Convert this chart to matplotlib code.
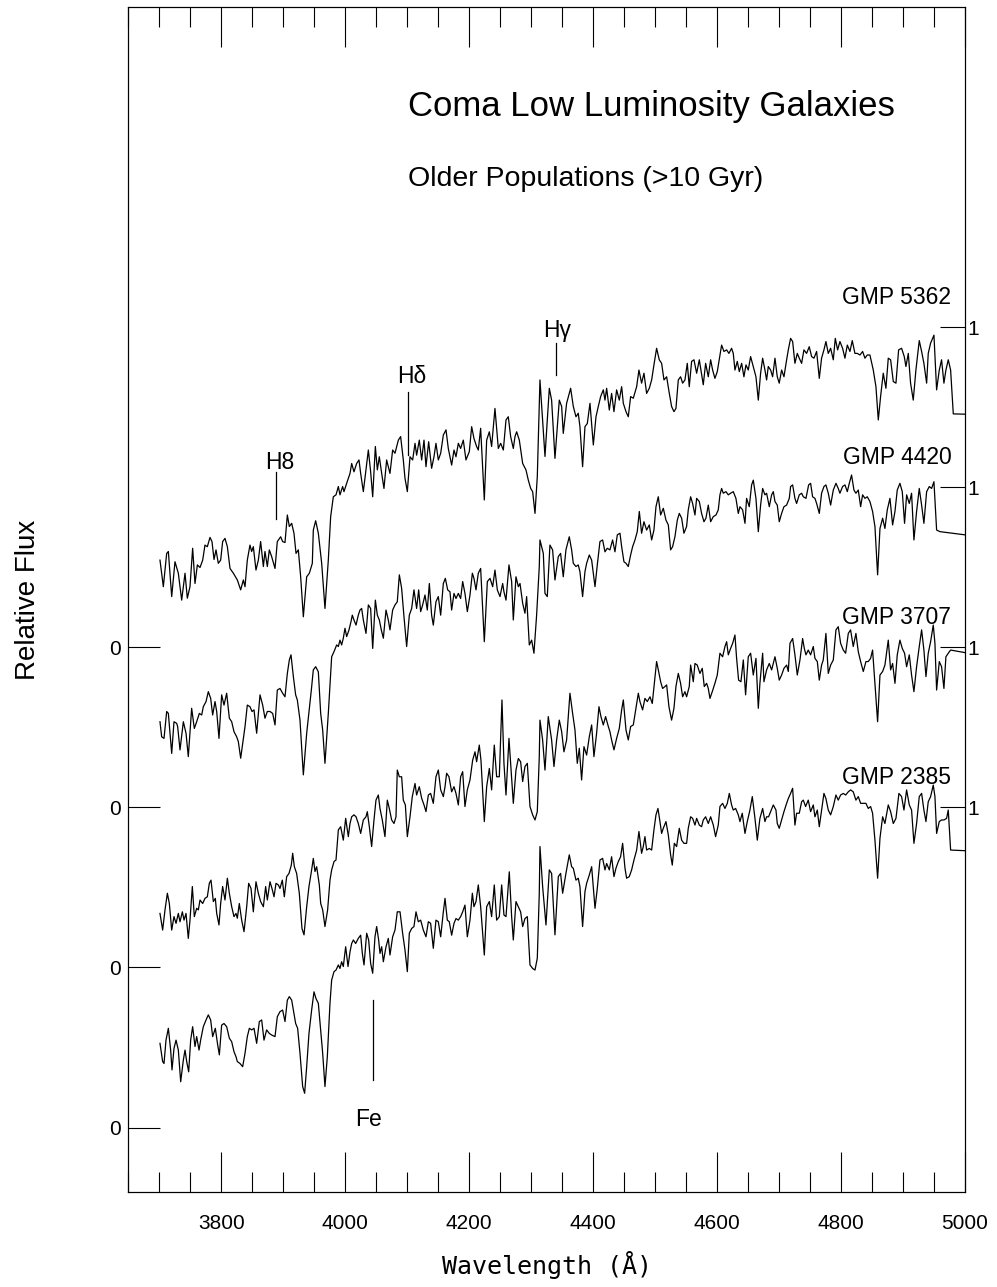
import matplotlib
matplotlib.use("Agg")
import matplotlib.pyplot as plt
from matplotlib.ticker import MultipleLocator

plt.rcParams['font.family'] = ['Liberation Sans', 'DejaVu Sans']

# Normalised spectra (flux = 1 near 4950 A), one pair of lists per galaxy
wave_5362 = [
    3701.1, 3706.5, 3711.9, 3714.6, 3720.0, 3725.3, 3730.7, 3736.1, 3741.5, 3745.2,
    3749.5, 3753.8, 3757.6, 3761.4, 3765.7, 3770.0, 3773.7, 3777.5, 3781.8, 3785.0,
    3788.3, 3791.5, 3795.2, 3799.0, 3802.2, 3806.0, 3809.8, 3814.1, 3819.5, 3825.9,
    3831.3, 3835.6, 3838.3, 3842.0, 3846.3, 3849.0, 3851.7, 3856.0, 3859.8, 3863.5,
    3867.9, 3870.5, 3874.3, 3877.5, 3881.3, 3886.7, 3890.4, 3895.8, 3899.0, 3902.8,
    3906.6, 3909.8, 3913.6, 3917.3, 3920.6, 3924.3, 3928.1, 3932.4, 3937.8, 3942.1,
    3946.9, 3948.5, 3952.3, 3956.6, 3962.0, 3967.3, 3972.7, 3976.5, 3980.8, 3985.1,
    3988.9, 3991.5, 3995.8, 3998.0, 4002.3, 4007.7, 4010.4, 4014.1, 4018.4, 4022.2,
    4024.9, 4029.2, 4033.5, 4037.3, 4041.0, 4044.3, 4048.6, 4051.8, 4055.0, 4058.8,
    4062.5, 4066.8, 4072.2, 4076.5, 4080.3, 4085.7, 4089.4, 4093.7, 4096.4, 4100.2,
    4104.5, 4108.8, 4112.6, 4115.2, 4119.5, 4123.3, 4127.1, 4130.3, 4134.6, 4139.4,
    4143.2, 4146.4, 4150.2, 4154.0, 4158.3, 4162.6, 4166.3, 4171.7, 4175.5, 4178.7,
    4182.5, 4186.2, 4190.5, 4194.8, 4200.2, 4204.0, 4207.7, 4212.0, 4214.7, 4218.5,
    4224.4, 4228.2, 4232.5, 4236.2, 4241.6, 4247.0, 4250.8, 4255.1, 4259.4, 4263.1,
    4266.9, 4271.2, 4273.9, 4276.6, 4280.9, 4286.3, 4291.6, 4295.4, 4299.2, 4302.4,
    4306.2, 4309.9,
    4314.2, 4322.3, 4329.3, 4333.0, 4338.4, 4345.4, 4349.2, 4351.8, 4357.2, 4363.7,
    4368.0, 4372.3, 4376.0, 4378.7, 4383.0, 4386.8, 4390.6, 4394.9, 4400.3, 4404.6,
    4408.3, 4412.1, 4416.4, 4419.1, 4421.8, 4426.1, 4429.8, 4433.6, 4437.9, 4442.2,
    4446.0, 4448.7, 4453.0, 4456.7, 4460.5, 4464.8, 4470.2, 4473.9, 4478.2, 4482.0,
    4486.3, 4490.6, 4494.4, 4498.1, 4502.4, 4506.7, 4510.5, 4514.3, 4518.6, 4522.9,
    4526.6, 4530.4, 4533.6, 4537.4, 4541.1, 4544.4, 4548.1, 4551.9, 4555.1, 4558.9,
    4562.7, 4567.0, 4571.3, 4574.0, 4577.7, 4581.5, 4585.8, 4589.6, 4592.8, 4596.5,
    4600.3, 4604.6, 4607.3, 4611.1, 4615.4, 4619.1, 4623.4, 4626.1, 4628.8, 4632.6,
    4635.8, 4639.6, 4643.3, 4646.6, 4650.3, 4654.1, 4658.4, 4662.7, 4666.5, 4670.2,
    4673.5, 4677.2, 4679.9, 4682.6, 4686.4, 4689.6, 4693.4, 4697.1, 4700.3, 4704.1,
    4707.9, 4712.2, 4714.9, 4718.6, 4721.9, 4725.6, 4729.4, 4732.6, 4736.4, 4740.1,
    4744.4, 4748.7, 4752.5, 4756.3, 4760.6, 4764.9, 4768.6, 4772.4, 4775.6, 4779.4,
    4783.2, 4787.5, 4790.7, 4794.5, 4798.2, 4802.5, 4806.3, 4810.1, 4814.4, 4818.1,
    4822.4, 4826.2, 4830.5, 4834.8, 4838.6, 4842.3, 4846.6, 4852.0, 4856.3, 4860.1,
    4863.8, 4868.1, 4872.4, 4876.2, 4880.0, 4884.3, 4888.6, 4892.9, 4897.7, 4902.0,
    4904.7, 4908.5, 4912.2, 4916.5, 4920.8, 4926.2, 4930.0, 4933.7, 4938.1, 4940.7,
    4944.5, 4949.9, 4954.2, 4958.5, 4962.2, 4966.0, 4969.2, 4973.0, 4976.8, 4981.1,
    5000.0]
flux_5362 = [
    .273, .190, .294, .300, .159, .268, .232, .148, .232, .154,
    .190, .310, .200, .258, .250, .273, .320, .315, .344, .331,
    .275, .305, .263, .273, .331, .341, .315, .247, .232, .211,
    .180, .211, .190, .273, .320, .300, .315, .242, .273, .331,
    .253, .300, .253, .305, .284, .247, .331, .346, .331, .328,
    .414, .378, .388, .357, .294, .305, .221, .096, .221, .232,
    .263, .367, .396, .357, .263, .122, .273, .409, .471, .477,
    .503, .477, .503, .487, .513, .544, .575, .549, .575, .586,
    .544, .487, .555, .617, .549, .471, .628, .555, .596, .544,
    .497, .586, .544, .617, .607, .648, .659, .586, .529, .487,
    .596, .586, .638, .601, .648, .586, .648, .565, .643, .560,
    .596, .638, .586, .607, .664, .680, .622, .570, .617, .596,
    .638, .622, .648, .586, .612, .690, .653, .628, .617, .685,
    .461, .648, .674, .628, .747, .622, .638, .617, .711, .721,
    .659, .622, .659, .674, .648, .575, .555, .523, .497, .487,
    .419, .534,
    .836, .597, .810, .773, .591, .773, .753, .669, .763, .810,
    .753, .721, .732, .690, .565, .690, .700, .763, .633, .721,
    .753, .784, .805, .773, .810, .742, .794, .737, .805, .773,
    .815, .763, .737, .721, .784, .779, .815, .867, .826, .857,
    .794, .810, .836, .883, .935, .899, .888, .836, .846, .794,
    .753, .737, .747, .836, .846, .826, .836, .888, .815, .894,
    .899, .857, .899, .867, .821, .888, .846, .899, .867, .841,
    .862, .914, .945, .925, .930, .919, .935, .919, .867, .894,
    .862, .888, .846, .883, .867, .909, .878, .846, .773, .857,
    .904, .867, .836, .878, .867, .846, .904, .846, .826, .867,
    .846, .899, .930, .966, .956, .888, .919, .904, .888, .930,
    .919, .940, .909, .904, .925, .841, .904, .930, .956, .919,
    .935, .899, .966, .930, .956, .935, .904, .945, .925, .959,
    .919, .919, .914, .925, .904, .914, .914, .867, .815, .711,
    .784, .857, .810, .904, .899, .831, .826, .930, .935, .909,
    .878, .919, .826, .773, .867, .959, .925, .888, .826, .919,
    .951, .976, .805, .867, .899, .826, .867, .899, .867, .730,
    .729]

wave_4420 = [
    3701.1, 3703.8, 3707.6, 3711.9, 3714.6, 3720.0, 3723.7, 3728.0, 3729.6, 3733.4,
    3738.8, 3743.1, 3746.8, 3752.2, 3756.5, 3760.3, 3764.6, 3768.4, 3771.0, 3775.4,
    3779.1, 3782.9, 3786.1, 3789.9, 3792.6, 3796.3, 3800.6, 3804.4, 3808.7, 3813.0,
    3816.8, 3820.5, 3824.8, 3827.5, 3831.3, 3834.5, 3838.3, 3842.0, 3846.3, 3849.6,
    3852.8, 3857.1, 3862.5, 3866.8, 3870.5, 3874.3, 3878.6, 3882.9, 3886.7, 3890.4,
    3894.7, 3899.0, 3902.8, 3906.6, 3909.8, 3912.5, 3916.3, 3920.0, 3922.7, 3927.0,
    3932.4, 3937.8, 3942.1, 3945.3, 3948.5, 3952.3, 3956.6, 3960.4, 3963.6, 3967.3,
    3972.7, 3978.1, 3981.9, 3986.2, 3988.9, 3991.5, 3994.2, 3996.9, 3999.6, 4002.3,
    4006.1, 4009.3, 4011.4, 4014.1, 4017.4, 4021.1, 4023.8, 4026.5, 4029.2, 4033.5,
    4037.3, 4041.0, 4044.3, 4048.6, 4051.8, 4055.0, 4058.2, 4061.5, 4065.8, 4069.5,
    4072.2, 4076.5, 4080.3, 4084.0, 4087.3, 4091.0, 4094.8, 4099.1, 4103.4, 4107.2,
    4110.9, 4115.2, 4118.5, 4121.7, 4124.9, 4128.7, 4132.4, 4135.7, 4139.4, 4142.1,
    4146.4, 4150.2, 4154.0, 4158.3, 4161.5, 4165.3, 4169.0, 4171.7, 4175.5, 4178.7,
    4182.5, 4186.2, 4189.5, 4193.2, 4197.0, 4201.3, 4205.1, 4207.7, 4211.0, 4214.7,
    4218.5, 4224.4, 4229.3, 4233.6, 4237.9, 4241.6, 4245.4, 4249.7, 4254.0, 4256.1,
    4259.4, 4264.2, 4268.5, 4271.2, 4275.5, 4279.3, 4282.0, 4286.3, 4290.0, 4292.7,
    4297.0, 4300.8, 4304.5, 4308.8, 4313.1,
    4314.2, 4319.6, 4322.3, 4326.0, 4330.3, 4334.6, 4338.4, 4343.8, 4347.5, 4351.8,
    4356.1, 4361.5, 4365.3, 4368.0, 4372.3, 4376.0, 4378.7, 4383.0, 4386.8, 4389.5,
    4393.8, 4397.6, 4403.0, 4406.7, 4411.0, 4415.3, 4419.1, 4422.8, 4427.1, 4431.4,
    4435.2, 4439.0, 4443.3, 4446.0, 4449.7, 4453.0, 4456.7, 4460.5, 4463.7, 4467.5,
    4471.2, 4474.5, 4478.2, 4482.0, 4486.3, 4490.6, 4494.4, 4498.1, 4501.4, 4505.1,
    4508.9, 4513.2, 4517.5, 4521.3, 4525.0, 4528.2, 4532.0, 4535.8, 4539.0, 4542.8,
    4546.5, 4550.8, 4553.5, 4557.3, 4560.5, 4564.3, 4567.0, 4571.3, 4575.0, 4578.8,
    4582.0, 4585.8, 4589.6, 4593.9, 4598.2, 4601.9, 4604.6, 4607.3, 4610.0, 4614.3,
    4618.1, 4621.8, 4626.1, 4630.4, 4634.2, 4636.9, 4641.2, 4645.0, 4647.6, 4651.9,
    4655.7, 4658.4, 4662.7, 4666.5, 4670.2, 4673.5, 4677.2, 4679.9, 4684.2, 4688.0,
    4690.7, 4693.4, 4697.1, 4700.3, 4704.1, 4707.9, 4712.2, 4716.5, 4718.6, 4721.9,
    4725.6, 4728.3, 4732.6, 4736.4, 4739.1, 4743.4, 4747.7, 4750.9, 4754.1, 4757.9,
    4760.6, 4764.9, 4768.6, 4772.4, 4775.6, 4779.4, 4783.2, 4787.5, 4791.8, 4795.5,
    4798.2, 4802.5, 4806.3, 4810.1, 4813.3, 4817.0, 4820.8, 4824.0, 4827.8, 4831.6,
    4834.8, 4838.6, 4842.3, 4846.6, 4850.9, 4854.7, 4859.0, 4862.8, 4867.1, 4870.8,
    4874.6, 4878.9, 4883.2, 4887.0, 4890.7, 4895.0, 4898.8, 4902.5, 4905.8, 4910.1,
    4913.8, 4917.6, 4921.9, 4926.2, 4930.0, 4933.7, 4938.1, 4942.4, 4946.1, 4949.9,
    4954.2, 4959.6, 5000.0]
flux_4420 = [
    .268, .221, .216, .300, .294, .169, .268, .263, .253, .180,
    .268, .232, .159, .310, .247, .268, .294, .289, .315, .331,
    .362, .341, .289, .331, .300, .216, .352, .320, .357, .279,
    .268, .237, .221, .206, .154, .200, .253, .320, .315, .300,
    .305, .232, .352, .320, .279, .300, .300, .294, .258, .367,
    .372, .357, .346, .419, .461, .477, .409, .352, .336, .273,
    .102, .232, .310, .367, .430, .440, .424, .294, .242, .138,
    .294, .471, .487, .508, .503, .523, .508, .529, .560, .534,
    .555, .581, .601, .586, .570, .601, .617, .622, .586, .544,
    .633, .622, .497, .648, .601, .586, .555, .529, .617, .586,
    .555, .617, .633, .643, .727, .685, .596, .503, .601, .622,
    .680, .622, .680, .612, .633, .664, .617, .700, .601, .570,
    .643, .659, .601, .700, .716, .680, .674, .617, .669, .653,
    .669, .653, .706, .669, .612, .664, .732, .716, .680, .732,
    .747, .518, .706, .716, .690, .742, .680, .659, .700, .674,
    .648, .758, .706, .586, .721, .690, .700, .638, .607, .659,
    .508, .523, .482, .601, .753,
    .836, .794, .669, .659, .820, .805, .711, .784, .794, .721,
    .805, .846, .805, .763, .753, .758, .737, .659, .737, .763,
    .789, .773, .690, .758, .831, .836, .799, .810, .805, .836,
    .799, .852, .857, .815, .768, .763, .753, .789, .815, .836,
    .862, .925, .857, .893, .867, .883, .836, .867, .940, .971,
    .914, .935, .898, .883, .805, .815, .846, .898, .919, .904,
    .857, .878, .930, .971, .950, .914, .966, .956, .919, .893,
    .904, .945, .893, .909, .914, .930, .977, .997, .982, .987,
    .977, .982, .987, .966, .919, .940, .930, .888, .966, .940,
    1.008, 1.023, .966, .862, .945, .997, .977, .982, .940, .977,
    .987, .956, .945, .893, .919, .940, .945, .966, 1.003, 1.008,
    .966, .950, .977, .982, .971, .966, 1.008, 1.013, .971, .966,
    .950, .919, .982, 1.003, 1.008, .982, .945, .992, 1.013, .997,
    .982, 1.003, 1.008, .987, 1.013, 1.039, .992, .982, .992, .940,
    .977, .966, .971, .956, .925, .878, .727, .872, .904, .872,
    .930, .966, .883, .925, .992, 1.013, .987, .888, .977, .950,
    .982, .836, .925, .997, .945, .888, .987, 1.003, .997, 1.018,
    .867, .862, .852]

wave_3707 = [
    3701.1, 3705.4, 3709.2, 3713.0, 3716.2, 3720.0, 3723.7, 3727.0, 3730.7, 3733.4,
    3737.2, 3739.9, 3743.1, 3746.8, 3749.5, 3753.3, 3756.5, 3760.3, 3763.0, 3765.7,
    3770.0, 3773.7, 3777.5, 3780.7, 3783.4, 3787.2, 3790.4, 3792.6, 3796.3, 3799.0,
    3802.2, 3806.0, 3809.8, 3813.0, 3816.8, 3820.5, 3823.8, 3825.9, 3829.1, 3832.9,
    3836.7, 3841.0, 3844.2, 3848.0, 3851.7, 3856.0, 3859.8, 3863.5, 3867.9, 3871.6,
    3874.3, 3878.6, 3881.8, 3885.1, 3888.3, 3892.1, 3894.7, 3898.5, 3901.7, 3905.5,
    3909.3, 3913.0, 3915.2, 3917.9, 3921.6, 3925.9, 3930.2, 3933.5, 3937.8, 3941.5,
    3945.8, 3948.5, 3951.2, 3953.9, 3958.2, 3960.4, 3963.6, 3967.3, 3971.6, 3975.4,
    3978.1, 3981.9, 3985.1, 3988.9, 3992.6, 3996.9, 4000.7, 4005.0, 4007.7, 4010.4,
    4014.1, 4017.4, 4021.1, 4024.9, 4029.2, 4033.5, 4035.6, 4038.9, 4042.6, 4046.4,
    4049.6, 4053.4, 4056.1, 4059.8, 4064.1, 4067.9, 4071.1, 4074.9, 4078.7, 4081.9,
    4084.0, 4087.3, 4091.0, 4093.7, 4097.0, 4100.2, 4104.5, 4108.2, 4112.6, 4115.2,
    4119.5, 4123.3, 4127.1, 4130.3, 4134.1, 4137.8, 4142.1, 4146.4, 4150.2, 4154.0,
    4158.3, 4161.0, 4163.6, 4167.4, 4171.7, 4175.5, 4178.7, 4182.5, 4186.2, 4189.5,
    4193.2, 4197.0, 4201.3, 4205.6, 4209.4, 4212.0, 4216.3, 4219.0, 4224.4, 4228.2,
    4232.5, 4236.2, 4240.5, 4244.3, 4248.6, 4252.9, 4256.1, 4259.4, 4264.2, 4268.5,
    4271.2, 4275.5, 4279.3, 4283.0, 4286.3, 4290.0, 4293.8, 4298.1, 4302.4, 4306.2,
    4309.9, 4313.1,
    4314.2, 4318.5, 4322.3, 4327.6, 4333.0, 4336.8, 4341.1, 4345.4, 4349.2, 4352.9,
    4357.2, 4362.6, 4366.9, 4370.7, 4374.4, 4377.7, 4381.4, 4385.2, 4389.5, 4393.8,
    4397.6, 4401.3, 4405.6, 4409.4, 4412.6, 4416.4, 4420.1, 4424.5, 4427.1, 4429.8,
    4433.6, 4437.9, 4442.2, 4446.0, 4448.7, 4453.0, 4456.7, 4460.5, 4464.8, 4468.6,
    4472.9, 4475.5, 4479.8, 4483.6, 4487.4, 4491.7, 4495.4, 4498.7, 4502.4, 4505.7,
    4508.9, 4512.1, 4515.9, 4518.6, 4522.3, 4526.6, 4530.4, 4533.6, 4537.4, 4541.1,
    4544.4, 4548.1, 4550.8, 4555.1, 4557.3, 4561.6, 4564.3, 4568.0, 4572.3, 4576.1,
    4579.3, 4583.1, 4585.8, 4588.5, 4592.2, 4596.5, 4600.3, 4604.6, 4608.9, 4612.7,
    4615.4, 4618.1, 4621.8, 4625.1, 4628.8, 4631.5, 4634.7, 4638.5, 4642.3, 4646.0,
    4650.3, 4654.1, 4658.4, 4662.7, 4666.5, 4669.1, 4673.5, 4675.6, 4679.9, 4684.2,
    4688.0, 4690.7, 4693.4, 4697.1, 4700.3, 4704.1, 4707.9, 4712.2, 4714.9, 4717.6,
    4721.9, 4725.6, 4729.4, 4733.7, 4738.0, 4740.7, 4743.4, 4747.1, 4750.9, 4755.2,
    4757.9, 4761.7, 4764.9, 4768.6, 4771.3, 4775.6, 4779.4, 4783.2, 4787.5, 4791.8,
    4795.5, 4799.3, 4803.6, 4807.4, 4811.7, 4815.4, 4819.7, 4824.0, 4827.8, 4831.6,
    4835.9, 4840.2, 4843.9, 4847.7, 4850.9, 4854.7, 4859.0, 4862.8, 4867.1, 4870.8,
    4876.2, 4880.0, 4883.2, 4887.0, 4890.7, 4895.0, 4898.8, 4902.5, 4905.8, 4910.1,
    4913.8, 4917.6, 4921.9, 4926.2, 4930.0, 4933.7, 4937.0, 4940.7, 4944.5, 4948.8,
    4951.5, 4954.2, 4958.5, 4962.2, 4966.0, 4969.2, 4973.0, 4976.8, 5000.0]
flux_3707 = [
    .169, .117, .180, .232, .200, .117, .159, .138, .169, .143,
    .174, .148, .169, .091, .148, .253, .159, .185, .180, .211,
    .200, .216, .221, .263, .273, .206, .216, .169, .133, .200,
    .253, .211, .279, .232, .190, .159, .169, .154, .200, .148,
    .112, .190, .263, .247, .174, .268, .232, .206, .190, .253,
    .211, .268, .247, .221, .263, .258, .247, .273, .221, .284,
    .294, .320, .357, .315, .294, .232, .122, .102, .190, .253,
    .305, .341, .300, .315, .258, .200, .180, .128, .180, .273,
    .305, .331, .336, .430, .440, .398, .466, .409, .450, .471,
    .477, .471, .450, .419, .461, .471, .487, .440, .378, .461,
    .523, .539, .497, .461, .409, .523, .497, .461, .450, .471,
    .617, .596, .596, .523, .508, .409, .471, .534, .575, .539,
    .565, .529, .508, .487, .539, .544, .513, .596, .617, .555,
    .534, .565, .607, .596, .549, .565, .544, .508, .596, .612,
    .503, .555, .586, .648, .674, .643, .695, .648, .456, .565,
    .622, .555, .695, .596, .596, .836, .638, .539, .716, .591,
    .513, .617, .653, .643, .581, .628, .638, .503, .477, .461,
    .487, .659,
    .773, .711, .617, .784, .711, .628, .711, .773, .737, .674,
    .711, .857, .794, .742, .638, .685, .586, .690, .664, .721,
    .758, .659, .732, .815, .784, .758, .784, .753, .737, .711,
    .680, .716, .747, .805, .836, .742, .711, .753, .758, .805,
    .857, .831, .805, .841, .831, .846, .825, .888, .956, .925,
    .893, .872, .878, .883, .815, .773, .810, .878, .919, .888,
    .846, .862, .846, .878, .945, .893, .950, .945, .919, .935,
    .878, .888, .872, .841, .862, .888, .914, .982, .971, 1.003,
    1.018, .977, .997, 1.013, 1.039, .966, .898, .893, .961, .852,
    .971, .982, .914, .966, .810, .888, .982, .893, .930, .950,
    .930, .950, .971, .935, .898, .914, .935, .945, .925, 1.013,
    1.028, .977, .914, .961, 1.028, .997, .977, .992, .977, 1.003,
    .966, .956, .898, .945, .961, 1.044, .919, .945, .961, 1.055,
    1.065, 1.013, .992, .982, 1.044, 1.055, 1.003, 1.044, .987, .956,
    .925, .956, .956, .966, .992, .888, .768, .914, .925, .945,
    1.023, .930, .950, .888, .977, 1.023, .997, .982, .940, .977,
    .914, .862, .940, 1.003, 1.055, .992, .909, .982, 1.018, 1.070,
    1.013, .867, .956, .940, .872, .971, .982, .992, .984]

wave_2385 = [
    3701.1, 3705.4, 3707.6, 3710.8, 3714.6, 3718.3, 3720.5, 3723.7, 3727.0, 3730.7,
    3734.5, 3738.8, 3741.5, 3744.2, 3747.4, 3750.6, 3753.8, 3757.6, 3760.3, 3764.1,
    3766.7, 3771.0, 3775.4, 3779.1, 3782.9, 3786.1, 3790.4, 3794.2, 3796.9, 3800.6,
    3804.4, 3808.7, 3813.0, 3816.8, 3820.5, 3823.8, 3825.9, 3830.2, 3834.5, 3838.3,
    3842.0, 3845.3, 3849.0, 3852.8, 3857.1, 3861.4, 3865.2, 3868.9, 3873.2, 3877.5,
    3881.3, 3886.7, 3890.4, 3894.7, 3899.0, 3902.8, 3906.6, 3909.8, 3913.6, 3916.3,
    3920.0, 3923.2, 3927.0, 3931.3, 3934.5, 3937.8, 3941.5, 3945.8, 3949.6, 3952.8,
    3956.6, 3960.4, 3963.6, 3967.3, 3971.1, 3975.4, 3978.1, 3981.9, 3985.1, 3988.9,
    3991.5, 3994.2, 3996.9, 4000.7, 4004.5, 4007.7, 4010.4, 4013.1, 4016.8, 4021.1,
    4024.9, 4027.6, 4030.3, 4034.6, 4037.8, 4041.0, 4044.3, 4048.0, 4050.7, 4053.9,
    4056.1, 4058.8, 4061.5, 4065.8, 4069.5, 4072.2, 4076.5, 4080.3, 4084.0, 4088.4,
    4092.6, 4096.4, 4100.2, 4103.4, 4107.2, 4110.9, 4114.2, 4117.9, 4121.7, 4126.0,
    4130.3, 4134.1, 4137.8, 4142.1, 4146.4, 4150.2, 4154.0, 4158.3, 4161.0, 4164.7,
    4167.9, 4171.7, 4175.5, 4178.7, 4182.5, 4186.2, 4189.5, 4193.2, 4197.0, 4201.3,
    4205.1, 4207.7, 4211.0, 4214.7, 4218.5, 4224.4, 4228.2, 4232.5, 4236.2, 4240.5,
    4244.3, 4248.6, 4252.4, 4256.1, 4259.4, 4264.7, 4268.5, 4271.2, 4275.5, 4279.3,
    4283.0, 4286.3, 4290.0, 4293.8, 4298.1, 4302.4, 4306.2, 4309.9, 4313.1,
    4314.2, 4318.5, 4323.9, 4329.3, 4333.0, 4338.4, 4343.8, 4347.5, 4350.8, 4356.1,
    4361.5, 4365.3, 4368.0, 4372.3, 4376.0, 4378.7, 4383.0, 4386.8, 4389.5, 4393.8,
    4397.6, 4403.0, 4406.7, 4411.0, 4415.3, 4419.1, 4421.8, 4426.1, 4429.8, 4433.6,
    4436.8, 4440.6, 4444.3, 4447.6, 4451.4, 4454.0, 4458.3, 4462.1, 4465.9, 4470.2,
    4473.9, 4478.2, 4480.9, 4483.6, 4486.3, 4490.6, 4494.4, 4498.1, 4501.4, 4504.6,
    4507.8, 4510.5, 4513.2, 4517.5, 4521.3, 4525.0, 4527.7, 4531.0, 4534.7, 4539.0,
    4542.8, 4546.5, 4550.8, 4553.5, 4557.3, 4560.5, 4564.3, 4567.0, 4571.3, 4575.0,
    4577.7, 4581.5, 4585.8, 4589.6, 4593.9, 4597.6, 4601.9, 4604.6, 4608.9, 4612.7,
    4616.5, 4619.7, 4623.4, 4626.1, 4629.9, 4634.2, 4636.9, 4640.6, 4645.0, 4648.7,
    4653.0, 4656.8, 4661.1, 4664.9, 4669.1, 4673.5, 4677.2, 4679.9, 4683.1, 4686.4,
    4690.7, 4695.0, 4697.1, 4700.3, 4704.1, 4707.9, 4712.2, 4714.9, 4718.6, 4721.9,
    4725.6, 4728.3, 4732.6, 4736.4, 4739.1, 4742.8, 4747.1, 4750.9, 4755.2, 4757.9,
    4761.7, 4764.9, 4768.6, 4772.4, 4775.6, 4779.4, 4783.2, 4787.5, 4791.8, 4795.5,
    4799.3, 4803.6, 4807.4, 4811.7, 4815.4, 4819.7, 4824.0, 4827.8, 4831.6, 4835.9,
    4840.2, 4843.9, 4847.7, 4850.9, 4854.7, 4859.0, 4862.8, 4867.1, 4870.8, 4876.2,
    4880.0, 4884.3, 4888.6, 4893.4, 4897.7, 4901.5, 4905.8, 4910.1, 4913.8, 4917.6,
    4921.9, 4926.2, 4930.0, 4933.7, 4937.0, 4940.7, 4944.5, 4948.8, 4951.5, 4954.2,
    4958.5, 4962.2, 4966.0, 4970.3, 4973.0, 4976.8, 5000.0]
flux_2385 = [
    .263, .206, .200, .273, .310, .242, .180, .247, .273, .242,
    .143, .211, .242, .206, .174, .273, .315, .253, .284, .242,
    .273, .315, .336, .352, .336, .284, .310, .258, .227, .320,
    .325, .315, .279, .268, .237, .221, .206, .200, .190, .232,
    .284, .310, .305, .310, .263, .331, .336, .273, .305, .294,
    .289, .284, .346, .362, .367, .331, .398, .409, .398, .367,
    .325, .310, .232, .128, .107, .190, .294, .367, .424, .403,
    .388, .305, .232, .128, .221, .388, .461, .487, .492, .508,
    .497, .518, .503, .565, .503, .549, .575, .586, .575, .591,
    .601, .544, .508, .607, .586, .513, .482, .596, .628, .586,
    .544, .565, .518, .565, .591, .539, .596, .617, .674, .674,
    .607, .555, .487, .607, .622, .628, .674, .643, .648, .617,
    .596, .643, .638, .560, .648, .643, .596, .674, .716, .648,
    .643, .601, .638, .653, .648, .659, .674, .695, .596, .648,
    .732, .690, .706, .758, .690, .539, .690, .706, .659, .758,
    .648, .659, .758, .664, .659, .799, .659, .586, .706, .690,
    .674, .628, .653, .659, .508, .497, .492, .529, .732,
    .878, .753, .633, .805, .794, .602, .784, .794, .732, .794,
    .852, .815, .810, .773, .779, .753, .628, .737, .763, .789,
    .815, .685, .747, .836, .841, .805, .825, .805, .846, .784,
    .810, .831, .846, .888, .810, .779, .784, .805, .836, .867,
    .925, .857, .878, .909, .867, .872, .867, .930, .977, .997,
    .956, .919, .935, .956, .914, .852, .820, .888, .878, .935,
    .898, .888, .888, .935, .971, .966, .945, .966, .945, .940,
    .961, .971, .950, .971, .945, .909, .945, 1.003, 1.013, .997,
    1.013, 1.044, 1.008, .992, .997, .977, .956, .982, .919, .956,
    .992, 1.034, .966, .898, .966, .997, .956, .971, .971, .987,
    1.008, .992, .950, .935, .961, .987, 1.013, 1.028, 1.044, 1.060,
    .945, .982, .982, 1.018, 1.023, 1.003, 1.023, .987, 1.008, .971,
    .992, .940, .992, 1.044, 1.028, .992, .977, 1.003, 1.039, 1.023,
    1.039, 1.044, 1.039, 1.049, 1.055, 1.049, 1.023, 1.034, 1.013, 1.013,
    1.013, .997, 1.003, .982, .898, .779, .904, .971, .950, 1.008,
    .987, .950, .966, 1.044, 1.034, .992, 1.055, 1.008, .992, .888,
    .950, 1.034, 1.044, .992, .956, 1.018, 1.034, 1.070, 1.034, .919,
    .956, .961, .961, .966, .992, .867, .865]

galaxies = ['GMP 5362', 'GMP 4420', 'GMP 3707', 'GMP 2385']
offsets = [1.5, 1.0, 0.5, 0.0]
spectra = [(wave_5362, flux_5362), (wave_4420, flux_4420),
           (wave_3707, flux_3707), (wave_2385, flux_2385)]

# line identifications: label, wavelength, line bottom/top, label position
line_ids = [
    ('H8', 3889, 1.902, 2.049, 3894, 2.058),
    ('H\u03b4', 4102, 2.100, 2.299, 4108, 2.327),
    ('H\u03b3', 4340, 2.352, 2.451, 4342, 2.471),
    ('Fe', 4045, 0.148, 0.398, 4037, 0.005),
]

fig = plt.figure(figsize=(9.97, 12.87), dpi=100)
ax = fig.add_axes([0.1287, 0.0742, 0.8392, 0.9200])

for (wave, flux), off in zip(spectra, offsets):
    ax.plot(wave, [f + off for f in flux], color='black', lw=0.9)

for name, off in zip(galaxies, offsets):
    ax.text(4978, off + 1.0725, name, ha='right', va='baseline', fontsize=16.5)

for label, wl, y0, y1, tx, ty in line_ids:
    ax.plot([wl, wl], [y0, y1], color='black', lw=0.9)
    ax.text(tx, ty, label, ha='center', va='baseline', fontsize=16.5)

ax.text(4101, 3.162, 'Coma Low Luminosity Galaxies', ha='left', va='baseline',
        fontsize=25)
ax.text(4101, 2.941, 'Older Populations (>10 Gyr)', ha='left', va='baseline',
        fontsize=20.5)

ax.set_xlim(3650, 5000)
ax.set_ylim(-0.2, 3.5)
ax.xaxis.set_major_locator(MultipleLocator(200))
ax.xaxis.set_minor_locator(MultipleLocator(50))
ax.tick_params(axis='x', which='major', direction='in', length=28.8, width=0.8,
               top=True, labelsize=15, pad=16)
ax.tick_params(axis='x', which='minor', direction='in', length=14.4, width=0.8,
               top=True)

ax.set_yticks(offsets)
ax.set_yticklabels(['0'] * 4)
ax.tick_params(axis='y', direction='in', length=23, width=0.8, labelsize=15,
               pad=5)

rax = ax.twinx()
rax.set_ylim(-0.2, 3.5)
rax.set_yticks([off + 1.0 for off in offsets])
rax.set_yticklabels(['1'] * 4)
rax.tick_params(axis='y', direction='in', length=18, width=0.8, labelsize=15,
                pad=2)

for a in (ax, rax):
    for sp in a.spines.values():
        sp.set_linewidth(0.8)

fig.text(0.028, 0.534, 'Relative Flux', rotation=90, ha='center', va='center',
         fontsize=20)
fig.text(0.5486, 0.017, 'Wavelength (\u00c5)', ha='center', va='center',
         fontsize=18, family='DejaVu Sans Mono')

fig.savefig('out.png', dpi=100)
